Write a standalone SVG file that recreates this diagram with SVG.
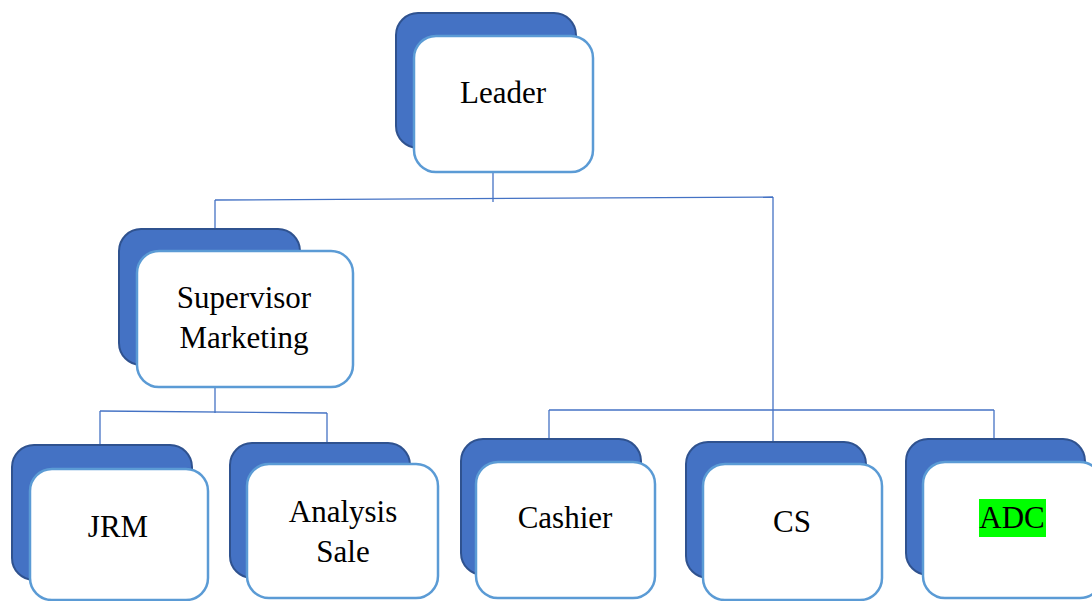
<svg xmlns="http://www.w3.org/2000/svg" width="1092" height="601" viewBox="0 0 1092 601">
<style>
.back{fill:#4472C4;stroke:#2F528F;stroke-width:2}
.front{fill:#FFFFFF;stroke:#5B9BD5;stroke-width:2.5}
.lbl{font-family:"Liberation Serif","Times New Roman",serif;font-size:31px;fill:#000;text-anchor:middle}
.conn{stroke:#4472C4;stroke-width:1.3;fill:none}
</style>
<rect width="1092" height="601" fill="#FFFFFF"/>
<g id="connectors">
<line class="conn" x1="493" y1="172" x2="493" y2="202"/>
<line class="conn" x1="215" y1="200" x2="773" y2="197"/>
<line class="conn" x1="215" y1="200" x2="215" y2="229"/>
<line class="conn" x1="773" y1="197" x2="773" y2="442"/>
<line class="conn" x1="215" y1="387" x2="215" y2="413"/>
<line class="conn" x1="100" y1="411" x2="327" y2="413"/>
<line class="conn" x1="100" y1="411" x2="100" y2="445"/>
<line class="conn" x1="327" y1="413" x2="327" y2="443"/>
<line class="conn" x1="549" y1="410" x2="994" y2="410"/>
<line class="conn" x1="549" y1="410" x2="549" y2="439"/>
<line class="conn" x1="994" y1="410" x2="994" y2="439"/>
</g>
<g id="leader">
<rect class="back" x="396" y="13" width="180" height="135" rx="22"/>
<rect class="front" x="414" y="36" width="179" height="136" rx="22"/>
<text class="lbl" x="503" y="103">Leader</text>
</g>
<g id="supervisor">
<rect class="back" x="119" y="229" width="181" height="136" rx="22"/>
<rect class="front" x="137" y="251" width="216" height="136" rx="22"/>
<text class="lbl" x="244" y="308">Supervisor</text>
<text class="lbl" x="244" y="348">Marketing</text>
</g>
<g id="jrm">
<rect class="back" x="12" y="445" width="180" height="135" rx="22"/>
<rect class="front" x="30" y="469" width="178" height="131" rx="22"/>
<text class="lbl" x="118" y="537">JRM</text>
</g>
<g id="analysis-sale">
<rect class="back" x="230" y="443" width="180" height="135" rx="22"/>
<rect class="front" x="247" y="464" width="191" height="134" rx="22"/>
<text class="lbl" x="343" y="522">Analysis</text>
<text class="lbl" x="343" y="562">Sale</text>
</g>
<g id="cashier">
<rect class="back" x="461" y="439" width="180" height="136" rx="22"/>
<rect class="front" x="476" y="462" width="179" height="136" rx="22"/>
<text class="lbl" x="565" y="528">Cashier</text>
</g>
<g id="cs">
<rect class="back" x="686" y="442" width="180" height="136" rx="22"/>
<rect class="front" x="703" y="464" width="179" height="136" rx="22"/>
<text class="lbl" x="792" y="532">CS</text>
</g>
<g id="adc">
<rect class="back" x="906" y="439" width="179" height="136" rx="22"/>
<rect class="front" x="923" y="462" width="179" height="136" rx="22"/>
<rect x="979" y="499" width="67" height="38" fill="#00FF00"/>
<text class="lbl" x="1012" y="528">ADC</text>
</g>
</svg>
